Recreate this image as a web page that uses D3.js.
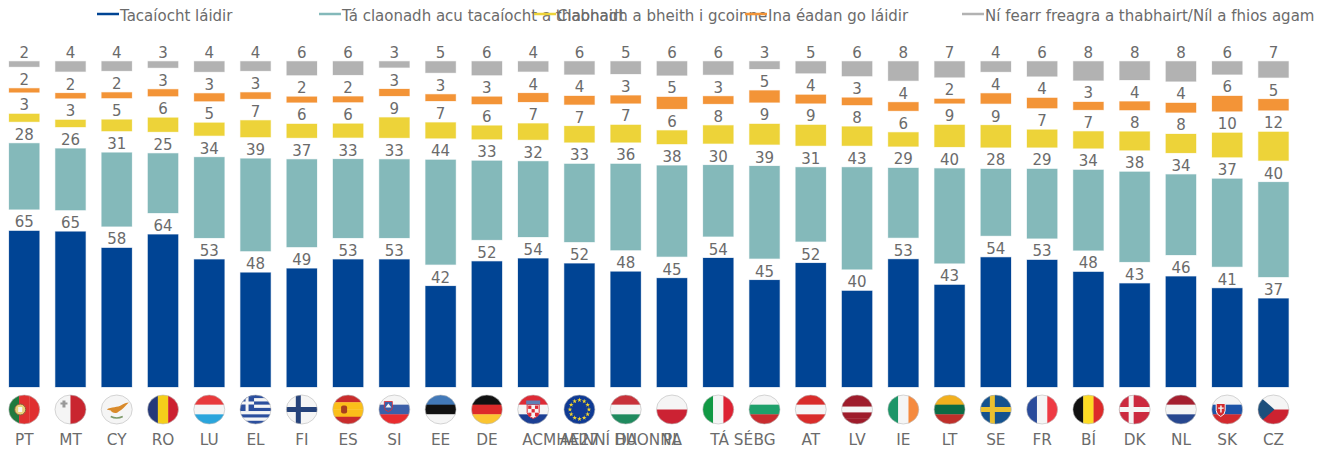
<!DOCTYPE html>
<html>
<head>
<meta charset="utf-8">
<script src="https://cdn.jsdelivr.net/npm/d3@7"></script>
<style>
    html, body { margin: 0; padding: 0; background: #fff; }
    svg { display: block; }
    text { font-family: "DejaVu Sans", sans-serif; fill: #6b6b6b; }
</style>
</head>
<body>
<svg id="chart" width="1328" height="450"></svg>
<script>
const countries = ["PT","MT","CY","RO","LU","EL","FI","ES","SI","EE","DE","ACMHAINNÍ DAONNA","AE27","HU","PL","TÁ SÉ","BG","AT","LV","IE","LT","SE","FR","BÍ","DK","NL","SK","CZ"];

// values carry a decimal so the stacks line up at the top like the original, labels are rounded
const strongSupport = [65.1,64.8,58.0,63.6,53.2,47.7,49.4,53.2,53.2,42.1,52.4,53.6,51.5,48.1,45.4,53.8,44.6,51.7,40.1,53.3,42.6,54.1,53.0,48.0,43.2,46.1,41.2,36.9];
const leanSupport = [27.6,25.7,30.8,24.9,33.7,38.6,36.6,32.9,32.8,43.7,33.0,31.6,32.6,36.0,38.0,29.8,38.6,31.0,42.6,29.1,39.6,27.9,29.0,33.6,37.6,33.6,36.7,39.6];
const leanAgainst = [3.3,3.0,4.8,5.9,5.4,7.0,5.8,5.8,8.5,6.6,5.7,6.8,6.8,7.3,5.7,7.6,8.6,8.7,8.0,5.9,9.2,9.3,7.4,7.1,7.8,7.9,10.2,12.0];
const strongAgainst = [1.7,2.2,2.4,2.9,3.3,2.7,2.4,2.4,2.9,2.8,3.1,3.7,3.6,3.3,5.0,3.2,5.0,3.6,3.1,3.6,1.9,4.3,4.3,3.3,3.6,4.0,6.4,4.7];
const dontKnow = [2.3,4.3,4.0,2.7,4.4,4.0,5.8,5.7,2.6,4.8,5.8,4.3,5.5,5.3,5.9,5.6,3.2,5.0,6.2,8.1,6.7,4.4,6.3,8.0,7.8,8.4,5.5,6.8];

const seriesNames = ["Tacaíocht láidir","Tá claonadh acu tacaíocht a thabhairt","Claonadh a bheith i gcoinne","Ina éadan go láidir","Ní fearr freagra a thabhairt/Níl a fhios agam"];
const seriesColors = ["#004494","#84b9ba","#edd339","#f39437","#b2b2b2"];
const legendLeft = [97, 319, 534, 745, 962];

// empty space between the segments, in value units
const spacer = 8.96;

const svg = d3.select("#chart");

const rows = countries.map((c, i) => ({
    country: c,
    s0: strongSupport[i], g0: spacer,
    s1: leanSupport[i], g1: spacer,
    s2: leanAgainst[i], g2: spacer,
    s3: strongAgainst[i], g3: spacer,
    s4: dontKnow[i]
}));

const stack = d3.stack().keys(["s0","g0","s1","g1","s2","g2","s3","g3","s4"]);
const layers = stack(rows).filter(l => l.key[0] === "s");

const x = d3.scaleBand()
    .domain(countries)
    .range([1.07, 1296.6])
    .paddingInner(0.345)
    .paddingOuter(0.1725);

const y = d3.scaleLinear()
    .domain([0, 100 + 4 * spacer])
    .range([387, 61.3]);

const format = d3.format(".0f");

// legend
const legend = svg.append("g").selectAll("g")
    .data(seriesNames)
    .join("g")
    .attr("transform", (d, i) => `translate(${legendLeft[i]},0)`);

legend.append("line")
    .attr("x1", 0).attr("x2", 22)
    .attr("y1", 14).attr("y2", 14)
    .attr("stroke", (d, i) => seriesColors[i])
    .attr("stroke-width", 2.5);

legend.append("text")
    .attr("x", 23)
    .attr("y", 21)
    .style("font-size", "15px")
    .text(d => d);

// bars
const groups = svg.append("g").selectAll("g")
    .data(layers)
    .join("g")
    .attr("fill", (d, i) => seriesColors[i])
    .attr("stroke", (d, i) => seriesColors[i]);

groups.selectAll("rect")
    .data(d => d)
    .join("rect")
    .attr("x", d => x(d.data.country))
    .attr("width", x.bandwidth())
    .attr("y", d => y(d[1]))
    .attr("height", d => y(d[0]) - y(d[1]))
    .attr("stroke-opacity", 0.25)
    .attr("stroke-width", 1);

// labels above each segment
groups.selectAll("text")
    .data(d => d.map(p => ({ p, v: p[1] - p[0] })))
    .join("text")
    .attr("x", d => x(d.p.data.country) + x.bandwidth() / 2)
    .attr("y", d => y(d.p[1]) - 3.5)
    .attr("text-anchor", "middle")
    .attr("stroke", "none")
    .style("font-size", "15px")
    .text(d => format(d.v));

// x axis, the two long labels start near the band centre instead of sitting on it
const axis = svg.append("g")
    .attr("transform", "translate(0,431)")
    .call(d3.axisBottom(x).tickSize(0).tickPadding(0));
axis.select(".domain").remove();
axis.selectAll("text")
    .attr("dy", "0.92em")
    .style("font-size", "15.3px")
    .style("font-family", '"DejaVu Sans", sans-serif')
    .each(function(d) {
        if (d.length > 2 && d !== "AE27") {
            d3.select(this)
                .attr("text-anchor", "start")
                .attr("x", d === "TÁ SÉ" ? -8 : -11);
        }
    });

// flags, colours per country: h = stripes top to bottom, v = stripes left to right
const flagStripes = {
    "PT": ["v", ["#1f7a3e","#e03030","#e03030"]],
    "MT": ["v", ["#f5f5f5","#c9252f"]],
    "CY": ["h", ["#f5f5f5"]],
    "RO": ["v", ["#25397a","#f5cf1a","#cc2030"]],
    "LU": ["h", ["#e83a3c","#f5f5f5","#2aa5dc"]],
    "EL": ["h", ["#2c4f9e","#f5f5f5","#2c4f9e","#f5f5f5","#2c4f9e","#f5f5f5","#2c4f9e","#f5f5f5","#2c4f9e"]],
    "FI": ["h", ["#f5f5f5"]],
    "ES": ["h", ["#c92c2c","#fbbf1a","#fbbf1a","#c92c2c"]],
    "SI": ["h", ["#f5f5f5","#3c5fa8","#e92c2f"]],
    "EE": ["h", ["#4279b8","#111111","#f5f5f5"]],
    "DE": ["h", ["#111111","#dd2a2a","#fbc531"]],
    "ACMHAINNÍ DAONNA": ["h", ["#dd2a35","#f5f5f5","#1c3f94"]],
    "AE27": ["h", ["#0f3a94"]],
    "HU": ["h", ["#c8323a","#f5f5f5","#1f8a5e"]],
    "PL": ["h", ["#f5f5f5","#cc2233"]],
    "TÁ SÉ": ["v", ["#119944","#f5f5f5","#dd2233"]],
    "BG": ["h", ["#f5f5f5","#1ea06b","#c92c2f"]],
    "AT": ["h", ["#d92c2a","#f5f5f5","#d92c2a"]],
    "LV": ["h", ["#9e1c2b","#9e1c2b","#f5f5f5","#9e1c2b","#9e1c2b"]],
    "IE": ["v", ["#1c9668","#f5f5f5","#f58a3f"]],
    "LT": ["h", ["#f2b01e","#0c6b45","#bf2f2a"]],
    "SE": ["h", ["#14528f"]],
    "FR": ["v", ["#2a4b9b","#f5f5f5","#ee3a43"]],
    "BÍ": ["v", ["#111111","#fddb25","#dd2a2a"]],
    "DK": ["h", ["#cc2a3f"]],
    "NL": ["h", ["#a51f2f","#f5f5f5","#27478f"]],
    "SK": ["h", ["#f5f5f5","#1c53a7","#d32a2e"]],
    "CZ": ["h", ["#f5f5f5","#cc2230"]]
};
const nordicCross = { "FI": "#25427a", "SE": "#eac02f", "DK": "#f5f5f5" };

const defs = svg.append("defs");
defs.append("clipPath").attr("id", "flagClip")
    .append("ellipse").attr("rx", 15.5).attr("ry", 14.5);

const flags = svg.append("g").selectAll("g")
    .data(countries)
    .join("g")
    .attr("transform", d => `translate(${x(d) + x.bandwidth() / 2},409.5)`);

flags.each(function(c) {
    const g = d3.select(this);
    const inner = g.append("g").attr("clip-path", "url(#flagClip)");
    const [dir, cols] = flagStripes[c];
    cols.forEach((col, i) => {
        const step = (dir === "h" ? 29 : 31) / cols.length;
        inner.append("rect")
            .attr("x", dir === "v" ? -15.5 + i * step : -15.5)
            .attr("y", dir === "h" ? -14.5 + i * step : -14.5)
            .attr("width", dir === "v" ? step + 0.3 : 31)
            .attr("height", dir === "h" ? step + 0.3 : 29)
            .attr("fill", col);
    });
    if (nordicCross[c]) {
        inner.append("rect").attr("x", -15.5).attr("y", -2.5).attr("width", 31).attr("height", 5).attr("fill", nordicCross[c]);
        inner.append("rect").attr("x", -6).attr("y", -14.5).attr("width", 5).attr("height", 29).attr("fill", nordicCross[c]);
    }
    if (c === "PT") {
        inner.append("circle").attr("cx", -4).attr("r", 5.5).attr("fill", "#e8d27a").attr("stroke", "#8a5a3a");
        inner.append("rect").attr("x", -6).attr("y", -2.5).attr("width", 4).attr("height", 5).attr("fill", "#f5f5f5");
    }
    if (c === "MT") {
        inner.append("path").attr("d", "M-8,-9h3v2h2v2h-2v3h-3v-3h-2v-2h2z").attr("fill", "#999");
    }
    if (c === "CY") {
        inner.append("path").attr("d", "M-10,0C-6,-3 2,-2 4,-4C7,-6 10,-7 12,-7C8,-3 6,0 2,2C-1,5 -5,3 -6,1Z").attr("fill", "#d98a2b");
        inner.append("path").attr("d", "M-6,7Q0,10 6,7").attr("fill", "none").attr("stroke", "#7d9a6a").attr("stroke-width", 1.5);
    }
    if (c === "EL") {
        inner.append("rect").attr("x", -15.5).attr("y", -14.5).attr("width", 14).attr("height", 16).attr("fill", "#2c4f9e");
        inner.append("rect").attr("x", -15.5).attr("y", -8).attr("width", 14).attr("height", 3).attr("fill", "#f5f5f5");
        inner.append("rect").attr("x", -10).attr("y", -14.5).attr("width", 3).attr("height", 16).attr("fill", "#f5f5f5");
    }
    if (c === "ES") {
        inner.append("rect").attr("x", -7).attr("y", -4).attr("width", 6).attr("height", 8).attr("rx", 2).attr("fill", "#a8401f");
    }
    if (c === "SI") {
        inner.append("path").attr("d", "M-10,-8h8v6q0,3 -4,4q-4,-1 -4,-4z").attr("fill", "#3c5fa8").attr("stroke", "#e92c2f").attr("stroke-width", 0.8);
        inner.append("path").attr("d", "M-9,-2l3,-4l3,4z").attr("fill", "#f5f5f5");
    }
    if (c === "ACMHAINNÍ DAONNA") {
        inner.append("path").attr("d", "M-6,-5h12v8q0,4 -6,6q-6,-2 -6,-6z").attr("fill", "#f5f5f5").attr("stroke", "#dd2a35");
        d3.range(9).forEach(k => {
            if (k % 2 === 0) {
                inner.append("rect")
                    .attr("x", -5 + (k % 3) * 3.4).attr("y", -4 + Math.floor(k / 3) * 3.6)
                    .attr("width", 3.2).attr("height", 3.4).attr("fill", "#dd2a35");
            }
        });
        inner.append("rect").attr("x", -7).attr("y", -9).attr("width", 14).attr("height", 4).attr("fill", "#5f7fb5");
    }
    if (c === "AE27") {
        d3.range(12).forEach(k => {
            const a = k / 12 * 2 * Math.PI;
            inner.append("path")
                .attr("d", d3.symbol(d3.symbolStar, 7))
                .attr("transform", `translate(${Math.sin(a) * 9.5},${-Math.cos(a) * 9.5})`)
                .attr("fill", "#f5d62a");
        });
    }
    if (c === "SK") {
        inner.append("path").attr("d", "M-11,-6h9v7q0,4 -4.5,6q-4.5,-2 -4.5,-6z").attr("fill", "#d32a2e").attr("stroke", "#f5f5f5");
        inner.append("rect").attr("x", -7).attr("y", -4).attr("width", 1.5).attr("height", 7).attr("fill", "#f5f5f5");
        inner.append("rect").attr("x", -9).attr("y", -2).attr("width", 5.5).attr("height", 1.3).attr("fill", "#f5f5f5");
    }
    if (c === "CZ") {
        inner.append("path").attr("d", "M-15.5,-14.5L1,0L-15.5,14.5Z").attr("fill", "#1c4f7c");
    }
    g.append("ellipse").attr("rx", 15.5).attr("ry", 14.5)
        .attr("fill", "none").attr("stroke", "#bbb").attr("stroke-width", 0.6);
});
</script>
</body>
</html>
